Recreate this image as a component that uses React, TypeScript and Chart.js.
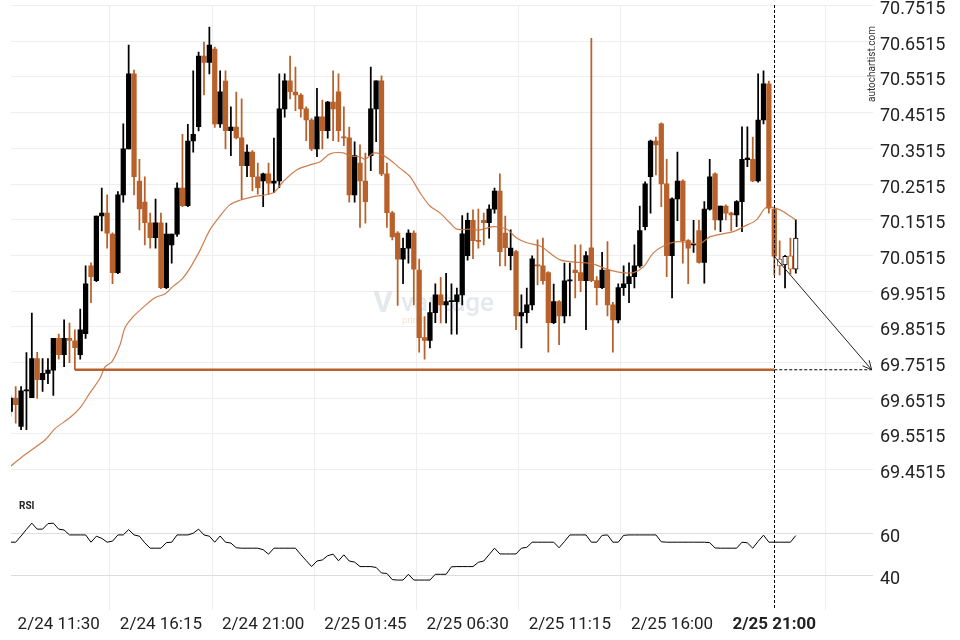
import React, { useEffect, useRef } from "react";
import { Chart, registerables } from "chart.js";

Chart.register(...registerables);

// ---------- DATA ----------
// candle index 0 = 2/24 09:15, one candle every 15 minutes
const opens = [
  69.614, 69.6515, 69.572, 69.672, 69.653, 69.762, 69.703, 69.721, 69.730, 69.819,
  69.773, 69.819, 69.812, 69.773, 69.832, 70.022, 69.981, 70.162, 70.170, 70.111,
  70.003, 70.221, 70.350, 70.560, 70.260, 70.201, 70.143, 70.101, 70.143, 69.961,
  70.081, 70.111, 70.240, 70.191, 70.372, 70.412, 70.610, 70.592, 70.630, 70.420,
  70.540, 70.401, 70.411, 70.381, 70.303, 70.341, 70.272, 70.260, 70.280, 70.254,
  70.260, 70.462, 70.541, 70.509, 70.501, 70.462, 70.431, 70.350, 70.440, 70.401,
  70.481, 70.510, 70.384, 70.381, 70.221, 70.310, 70.260, 70.331, 70.462, 70.541,
  70.280, 70.171, 70.114, 70.041, 70.072, 70.114, 70.010, 69.821, 69.813, 69.891,
  69.941, 69.913, 69.922, 69.922, 69.941, 70.051, 70.150, 70.093, 70.150, 70.143,
  70.181, 70.232, 70.114, 70.051, 70.062, 69.882, 69.891, 69.913, 70.024, 70.022,
  70.003, 69.863, 69.922, 69.882, 69.980, 70.010, 70.003, 69.981, 70.073, 69.981,
  69.961, 70.010, 69.913, 69.871, 69.961, 69.972, 69.992, 70.022, 70.132, 70.272,
  70.372, 70.420, 70.252, 70.051, 70.210, 70.260, 70.093, 70.081, 70.121, 70.032,
  70.181, 70.280, 70.151, 70.190, 70.170, 70.165, 70.202, 70.320, 70.321, 70.260,
  70.431, 70.532, 70.181, 70.041, 70.025, 70.050, 70.013,
];
const highs = [
  69.660, 69.684, 69.684, 69.779, 69.890, 69.780, 69.762, 69.762, 69.819, 69.831,
  69.871, 69.862, 69.843, 69.901, 70.022, 70.031, 70.162, 70.240, 70.221, 70.115,
  70.230, 70.420, 70.641, 70.571, 70.321, 70.272, 70.170, 70.209, 70.170, 70.142,
  70.111, 70.255, 70.391, 70.419, 70.569, 70.621, 70.649, 70.691, 70.635, 70.569,
  70.569, 70.468, 70.509, 70.490, 70.361, 70.345, 70.310, 70.282, 70.310, 70.380,
  70.560, 70.560, 70.610, 70.579, 70.505, 70.468, 70.435, 70.520, 70.487, 70.483,
  70.569, 70.560, 70.468, 70.411, 70.370, 70.361, 70.338, 70.579, 70.541, 70.555,
  70.310, 70.175, 70.118, 70.100, 70.123, 70.120, 70.041, 69.880, 69.919, 69.972,
  69.990, 70.001, 69.972, 69.960, 70.163, 70.170, 70.179, 70.181, 70.170, 70.193,
  70.240, 70.280, 70.162, 70.123, 70.066, 69.941, 69.960, 70.050, 70.095, 70.100,
  70.006, 69.971, 69.925, 70.030, 70.030, 70.081, 70.081, 70.062, 70.660, 69.992,
  70.060, 70.090, 69.920, 69.972, 70.022, 70.031, 70.081, 70.190, 70.258, 70.375,
  70.383, 70.423, 70.321, 70.213, 70.341, 70.263, 70.096, 70.150, 70.150, 70.202,
  70.321, 70.283, 70.190, 70.193, 70.173, 70.205, 70.412, 70.412, 70.383, 70.560,
  70.569, 70.540, 70.185, 70.092, 70.052, 70.100, 70.151,
];
const lows = [
  69.600, 69.581, 69.563, 69.563, 69.653, 69.6515, 69.670, 69.692, 69.659, 69.761,
  69.740, 69.751, 69.731, 69.761, 69.819, 69.919, 69.978, 70.120, 70.072, 69.972,
  70.000, 70.201, 70.350, 70.221, 70.123, 70.081, 70.072, 70.072, 69.958, 69.958,
  70.030, 70.105, 70.188, 70.188, 70.341, 70.400, 70.501, 70.560, 70.410, 70.410,
  70.350, 70.331, 70.378, 70.210, 70.272, 70.232, 70.223, 70.188, 70.223, 70.227,
  70.241, 70.439, 70.490, 70.457, 70.439, 70.373, 70.345, 70.328, 70.350, 70.380,
  70.373, 70.370, 70.359, 70.201, 70.201, 70.130, 70.142, 70.289, 70.370, 70.275,
  70.130, 70.095, 69.911, 69.972, 70.030, 69.913, 69.780, 69.761, 69.792, 69.863,
  69.862, 69.862, 69.831, 69.831, 69.913, 70.038, 70.042, 70.072, 70.081, 70.100,
  70.170, 70.022, 70.022, 70.011, 69.843, 69.792, 69.862, 69.899, 69.969, 69.971,
  69.780, 69.860, 69.801, 69.862, 69.882, 69.932, 69.950, 69.843, 69.978, 69.913,
  69.958, 69.882, 69.780, 69.862, 69.939, 69.919, 69.960, 70.018, 70.123, 70.170,
  70.277, 70.188, 69.992, 69.932, 70.149, 70.030, 69.972, 70.060, 70.030, 69.974,
  70.178, 70.123, 70.118, 70.151, 70.120, 70.132, 70.118, 70.300, 70.258, 70.257,
  70.420, 70.170, 69.997, 69.997, 69.960, 69.999, 70.002,
];
const closes = [
  69.6515, 69.633, 69.672, 69.675, 69.762, 69.703, 69.721, 69.730, 69.819, 69.773,
  69.819, 69.813, 69.793, 69.843, 69.972, 69.992, 70.162, 70.170, 70.114, 70.003,
  70.221, 70.350, 70.560, 70.272, 70.182, 70.143, 70.101, 70.143, 69.961, 70.111,
  70.111, 70.240, 70.191, 70.372, 70.391, 70.610, 70.592, 70.641, 70.420, 70.510,
  70.401, 70.411, 70.381, 70.303, 70.341, 70.272, 70.241, 70.280, 70.254, 70.260,
  70.462, 70.541, 70.510, 70.501, 70.462, 70.431, 70.350, 70.440, 70.401, 70.481,
  70.462, 70.401, 70.381, 70.221, 70.331, 70.260, 70.202, 70.462, 70.541, 70.280,
  70.171, 70.103, 70.041, 70.071, 70.114, 70.013, 69.821, 69.813, 69.891, 69.941,
  69.913, 69.922, 69.924, 69.941, 70.112, 70.150, 70.093, 70.091, 70.143, 70.181,
  70.232, 70.062, 70.073, 70.072, 69.882, 69.891, 69.913, 70.042, 70.022, 69.981,
  69.863, 69.922, 69.882, 69.980, 69.983, 70.003, 69.981, 70.051, 69.981, 69.961,
  70.010, 69.913, 69.871, 69.961, 69.972, 69.992, 70.022, 70.121, 70.252, 70.372,
  70.361, 70.252, 70.051, 70.210, 70.260, 70.093, 70.072, 70.083, 70.032, 70.181,
  70.272, 70.151, 70.190, 70.170, 70.165, 70.202, 70.321, 70.324, 70.260, 70.431,
  70.532, 70.184, 70.049, 70.022, 70.049, 70.013, 70.100,
];
const hollowFromIndex = 143;

const maIndex = [
  0, 2.7, 6.5, 8.3, 11.1, 13.0, 14.8, 16.7, 17.6, 18.9,
  20.4, 21.3, 22.8, 25.0, 26.9, 28.8, 30.2, 31.9, 33.4, 35.3,
  37.1, 39.0, 40.8, 42.7, 45.2, 48.9, 50.7, 53.2, 55.7, 57.6,
  59.4, 61.9, 63.1, 65.0, 65.9, 67.5, 68.7, 70.6, 72.4, 74.3,
  76.2, 78.0, 79.9, 81.7, 83.0, 85.5, 87.3, 89.8, 92.3, 94.1,
  96.0, 98.5, 100.3, 102.2, 104.0, 105.9, 108.4, 110.9, 113.3, 115.8,
  117.7, 119.5, 121.4, 123.9, 126.3, 128.2, 130.1, 134.4, 136.3, 138.7,
  140.3, 141.5, 143.1, 144.9, 146.0,
];
const maValues = [
  69.460, 69.493, 69.535, 69.566, 69.597, 69.625, 69.666, 69.708, 69.739, 69.754,
  69.801, 69.848, 69.879, 69.910, 69.933, 69.944, 69.964, 69.985, 70.016, 70.067,
  70.123, 70.162, 70.193, 70.206, 70.216, 70.227, 70.258, 70.291, 70.305, 70.314,
  70.336, 70.339, 70.330, 70.328, 70.321, 70.338, 70.336, 70.319, 70.296, 70.272,
  70.226, 70.190, 70.170, 70.143, 70.125, 70.125, 70.123, 70.132, 70.125, 70.100,
  70.087, 70.078, 70.058, 70.039, 70.034, 70.032, 70.027, 70.013, 70.004, 70.003,
  70.020, 70.058, 70.078, 70.090, 70.087, 70.084, 70.104, 70.118, 70.132, 70.151,
  70.184, 70.187, 70.179, 70.162, 70.151,
];

const rsiValues = [
  55.8, 55.8, 58.7, 61.8, 64.7, 61.9, 61.9, 64.5, 64.7, 61.9,
  61.5, 59.2, 59.2, 59.2, 59.2, 55.8, 58.6, 57.6, 55.8, 56.3,
  59.2, 59.2, 61.7, 59.2, 58.6, 55.5, 53.0, 53.0, 53.0, 55.6,
  55.8, 59.2, 59.2, 59.2, 60.0, 61.9, 59.2, 58.6, 55.8, 58.7,
  55.8, 55.4, 53.2, 53.0, 53.0, 53.0, 53.0, 52.3, 50.2, 53.0,
  53.0, 53.0, 53.0, 53.0, 50.0, 47.2, 44.4, 47.0, 47.5, 49.5,
  50.2, 47.1, 49.9, 47.0, 46.5, 44.4, 44.4, 44.4, 44.0, 41.4,
  41.2, 38.3, 38.1, 38.1, 40.8, 38.1, 38.1, 38.1, 38.1, 40.8,
  40.8, 40.8, 44.3, 44.4, 44.4, 44.4, 44.4, 46.4, 47.0, 50.0,
  53.0, 50.3, 50.3, 50.3, 50.3, 53.0, 53.4, 55.8, 55.8, 55.8,
  55.8, 55.8, 53.2, 56.1, 59.2, 59.2, 59.2, 59.2, 55.8, 55.8,
  59.0, 59.2, 55.8, 55.8, 59.0, 59.2, 59.2, 59.2, 59.2, 59.2,
  59.2, 56.0, 55.8, 55.8, 55.8, 55.8, 55.8, 55.8, 55.8, 55.8,
  55.6, 53.1, 53.0, 53.0, 53.0, 53.0, 55.8, 55.5, 53.0, 56.2,
  59.1, 55.8, 55.8, 55.8, 55.8, 55.8, 58.9,
];

const xTickIndex = [9, 28, 47, 66, 85, 104, 123, 142];
const xTickLabels = [
  "2/24 11:30", "2/24 16:15", "2/24 21:00", "2/25 01:45",
  "2/25 06:30", "2/25 11:15", "2/25 16:00", "2/25 21:00",
];
const priceTicks = [
  69.4515, 69.5515, 69.6515, 69.7515, 69.8515, 69.9515, 70.0515,
  70.1515, 70.2515, 70.3515, 70.4515, 70.5515, 70.6515, 70.7515,
];
const rsiTicks = [40, 60];

const supportLevel = 69.731;
const supportStartIndex = 12;
const patternIndex = 142;
const projectionEndIndex = 160.1;
const arrowStartPrice = 70.049;

// ---------- STYLE ----------
const ORANGE = "#b9612b";
const BLACK = "#000000";
const FONT = "Roboto";

export default function App() {
  const canvasRef = useRef<HTMLCanvasElement | null>(null);

  useEffect(() => {
    document.body.style.margin = "0";
    const canvas = canvasRef.current;
    if (!canvas) return;

    const colorOf = (i: number) => (closes[i] >= opens[i] ? BLACK : ORANGE);
    const idx = opens.map((_, i) => i);

    const noPad = (s: any, w?: number) => {
      if (w !== undefined) s.width = w;
      s.paddingTop = 0;
      s.paddingBottom = 0;
    };

    const decor = {
      id: "decor",
      beforeDatasetsDraw(chart: any) {
        const { ctx, scales } = chart;
        const x = scales.x.getPixelForValue(72.5);
        const y = scales.y.getPixelForValue(69.915);
        ctx.save();
        ctx.fillStyle = "rgba(218,223,227,0.7)";
        ctx.font = `bold 30px ${FONT}`;
        ctx.textBaseline = "middle";
        ctx.textAlign = "left";
        ctx.fillText("V", x - 27, y);
        ctx.font = `500 26px ${FONT}`;
        ctx.fillText("vantage", x + 1, y);
        ctx.fillStyle = "rgba(235,205,185,0.6)";
        ctx.font = `9px ${FONT}`;
        ctx.fillText("prime", x + 2, y + 17);
        ctx.restore();
      },
      afterDatasetsDraw(chart: any) {
        const { ctx, chartArea, scales } = chart;
        const px = scales.x.getPixelForValue(patternIndex);
        ctx.save();
        ctx.strokeStyle = "#000";
        ctx.lineWidth = 1;
        ctx.setLineDash([3, 2]);
        ctx.beginPath();
        ctx.moveTo(Math.round(px) + 0.5, chartArea.top);
        ctx.lineTo(Math.round(px) + 0.5, chartArea.bottom);
        ctx.stroke();
        ctx.setLineDash([]);
        const meta = chart.getDatasetMeta(5);
        if (meta && meta.data.length === 2) {
          const a = meta.data[0];
          const b = meta.data[1];
          const ang = Math.atan2(b.y - a.y, b.x - a.x);
          const len = 10;
          ctx.strokeStyle = "#222";
          ctx.beginPath();
          ctx.moveTo(b.x - len * Math.cos(ang - 0.45), b.y - len * Math.sin(ang - 0.45));
          ctx.lineTo(b.x, b.y);
          ctx.lineTo(b.x - len * Math.cos(ang + 0.45), b.y - len * Math.sin(ang + 0.45));
          ctx.stroke();
        }
        ctx.restore();
      },
      afterDraw(chart: any) {
        const { ctx, chartArea } = chart;
        ctx.save();
        ctx.fillStyle = "#333";
        ctx.font = `10px ${FONT}`;
        ctx.textAlign = "center";
        ctx.textBaseline = "middle";
        ctx.translate(chartArea.right - 1, 64);
        ctx.rotate(-Math.PI / 2);
        ctx.fillText("autochartist.com", 0, 0);
        ctx.restore();
        ctx.save();
        ctx.fillStyle = "#222";
        ctx.font = `bold 10px ${FONT}`;
        ctx.textAlign = "left";
        ctx.textBaseline = "middle";
        const ry = chart.scales.y2.top + 17;
        ctx.fillText("RSI", 19, ry);
        ctx.restore();
      },
    };

    const chart = new Chart(canvas, {
      type: "bar",
      data: {
        datasets: [
          {
            type: "bar",
            label: "bodies",
            data: idx.map((i) => ({ x: i, y: [opens[i], closes[i]] })) as any,
            backgroundColor: idx.map((i) => (i >= hollowFromIndex ? "#ffffff" : colorOf(i))),
            borderColor: idx.map((i) => colorOf(i)),
            borderWidth: idx.map((i) => (i >= hollowFromIndex ? 1 : 0)),
            borderSkipped: false,
            barThickness: 4.6,
            minBarLength: 1,
            grouped: false,
            yAxisID: "y",
            order: 2,
          } as any,
          {
            type: "bar",
            label: "wicks",
            data: idx.map((i) => ({ x: i, y: [lows[i], highs[i]] })) as any,
            backgroundColor: idx.map((i) => colorOf(i)),
            borderWidth: 0,
            barThickness: 1.1,
            grouped: false,
            yAxisID: "y",
            order: 3,
          } as any,
          {
            type: "line",
            label: "ma",
            data: maIndex.map((x, k) => ({ x, y: maValues[k] })),
            borderColor: "rgba(200,112,60,0.9)",
            borderWidth: 1.2,
            pointRadius: 0,
            tension: 0.3,
            yAxisID: "y",
            order: 1,
          } as any,
          {
            type: "line",
            label: "support",
            data: [
              { x: supportStartIndex, y: supportLevel },
              { x: patternIndex, y: supportLevel },
            ],
            borderColor: ORANGE,
            borderWidth: 2.4,
            pointRadius: 0,
            yAxisID: "y",
            order: 0,
          } as any,
          {
            type: "line",
            label: "projection",
            data: [
              { x: patternIndex, y: supportLevel },
              { x: projectionEndIndex, y: supportLevel },
            ],
            borderColor: "#000",
            borderWidth: 1,
            borderDash: [3, 2],
            pointRadius: 0,
            yAxisID: "y",
            order: 0,
          } as any,
          {
            type: "line",
            label: "arrow",
            data: [
              { x: patternIndex, y: arrowStartPrice },
              { x: projectionEndIndex, y: supportLevel },
            ],
            borderColor: "#222",
            borderWidth: 1,
            pointRadius: 0,
            yAxisID: "y",
            order: 0,
          } as any,
          {
            type: "line",
            label: "rsi",
            data: rsiValues.map((v, i) => ({ x: i, y: v })),
            borderColor: "#000",
            borderWidth: 1,
            pointRadius: 0,
            yAxisID: "y2",
            order: 0,
          } as any,
        ],
      },
      options: {
        responsive: false,
        animation: false,
        events: [],
        layout: { padding: { left: 11, top: 5, right: 0, bottom: 0 } },
        plugins: { legend: { display: false }, tooltip: { enabled: false } },
        scales: {
          x: {
            type: "linear",
            min: 0.13,
            max: 160.35,
            offset: false,
            afterBuildTicks: (s: any) => {
              s.ticks = xTickIndex.map((v) => ({ value: v }));
            },
            afterFit: (s: any) => {
              s.height = 30;
              s.paddingLeft = 0;
              s.paddingRight = 0;
            },
            border: { display: false },
            grid: {
              drawTicks: false,
              color: (c: any) =>
                c.tick && c.tick.value === patternIndex ? "rgba(0,0,0,0)" : "#eeeeee",
            },
            ticks: {
              autoSkip: false,
              maxRotation: 0,
              padding: 5,
              color: "#222",
              font: (c: any) => ({
                family: FONT,
                size: 17,
                weight: c.tick && c.tick.value === patternIndex ? "bold" : "normal",
              }),
              callback: (v: any) => {
                const k = xTickIndex.indexOf(Number(v));
                return k >= 0 ? xTickLabels[k] : "";
              },
            },
          },
          y: {
            type: "linear",
            position: "right",
            stack: "panes",
            stackWeight: 484,
            min: 69.3946,
            max: 70.7532,
            afterBuildTicks: (s: any) => {
              s.ticks = priceTicks.map((v) => ({ value: v }));
            },
            afterFit: (s: any) => noPad(s, 87),
            border: { display: false },
            grid: { drawTicks: false, color: "#eeeeee" },
            ticks: {
              autoSkip: false,
              padding: 7,
              labelOffset: 4,
              color: "#222",
              font: { family: FONT, size: 18 },
              callback: (v: any) => Number(v).toFixed(4),
            },
          },
          y2: {
            type: "linear",
            position: "right",
            stack: "panes",
            stackWeight: 120,
            min: 24.1,
            max: 80.3,
            afterBuildTicks: (s: any) => {
              s.ticks = rsiTicks.map((v) => ({ value: v }));
            },
            afterFit: (s: any) => noPad(s, 87),
            border: { display: false },
            grid: { drawTicks: false, color: "#dddddd" },
            ticks: {
              autoSkip: false,
              padding: 7,
              labelOffset: 4,
              color: "#222",
              font: { family: FONT, size: 18 },
              callback: (v: any) => String(v),
            },
          },
        } as any,
      },
      plugins: [decor],
    });

    return () => chart.destroy();
  }, []);

  return (
    <div style={{ position: "absolute", left: 0, top: 0, width: 960, height: 640, background: "#fff" }}>
      <canvas ref={canvasRef} width={960} height={640} />
    </div>
  );
}
